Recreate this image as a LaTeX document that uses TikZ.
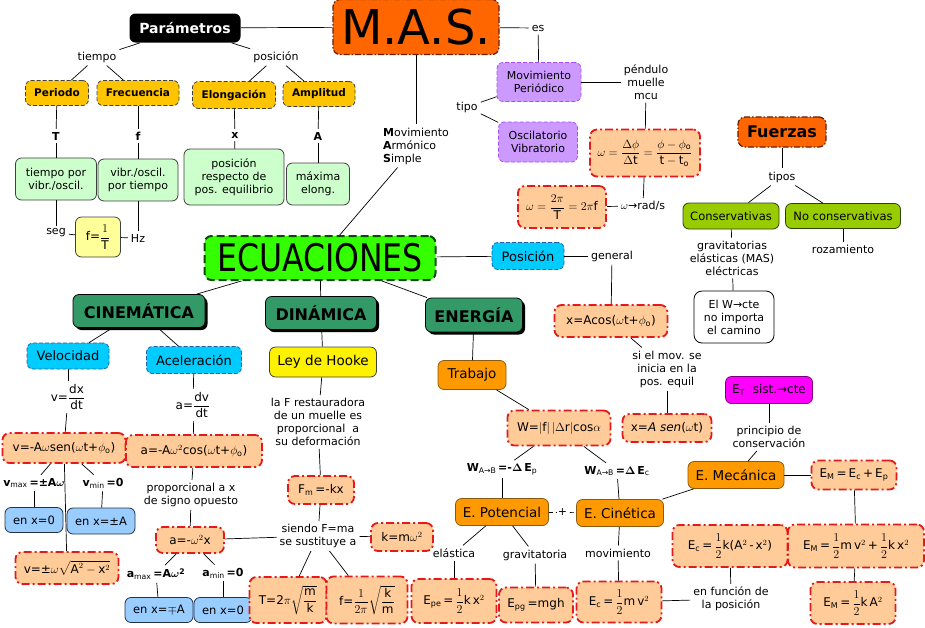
\documentclass[tikz,border=0pt]{standalone}
\usepackage{amsmath}
\usepackage{fontspec}
\setmainfont{DejaVu Sans}
\usetikzlibrary{shadows}

\definecolor{masorange}{HTML}{FF6600}
\definecolor{masedge}{HTML}{6A1A00}
\definecolor{goldc}{HTML}{FFC400}
\definecolor{palegreen}{HTML}{CCFFCC}
\definecolor{paleyellow}{HTML}{FFFF99}
\definecolor{purpc}{HTML}{CC99FF}
\definecolor{purpedge}{HTML}{A64DFF}
\definecolor{frmfill}{HTML}{FFCC99}
\definecolor{frmred}{HTML}{E51919}
\definecolor{ecugreen}{HTML}{33FF00}
\definecolor{ecuedge}{HTML}{0B4A0B}
\definecolor{cyanc}{HTML}{00CCFF}
\definecolor{bluedge}{HTML}{1F5FA8}
\definecolor{secgreen}{HTML}{339966}
\definecolor{orangec}{HTML}{FF9900}
\definecolor{orangeedge}{HTML}{8A5A10}
\definecolor{lightblue}{HTML}{99CCFF}
\definecolor{navyedge}{HTML}{223344}
\definecolor{limec}{HTML}{99CC00}
\definecolor{limeedge}{HTML}{2E4400}
\definecolor{magentac}{HTML}{FF00FF}
\definecolor{magedge}{HTML}{7A007A}

\newcommand{\fsz}[2]{\fontsize{#1}{#2}\selectfont}
\newcommand{\tx}[1]{\text{#1}}

\begin{document}
\begin{tikzpicture}[x=1pt, y=-1pt,
  every node/.style={font=\fsz{11}{13}},
  link/.style={draw, line width=0.7pt},
  lbl/.style={inner sep=3pt, align=center},
  sym/.style={lbl, font=\fsz{11}{13}\bfseries},
  dsh/.style={dash pattern=on 4pt off 2pt},
  box/.style={rounded corners=4pt, align=center, line width=0.8pt, inner xsep=4pt, inner ysep=2pt},
  mas/.style={box, fill=masorange, draw=masedge, line width=1.2pt, dash pattern=on 6pt off 2pt on 1.5pt off 2pt, rounded corners=7pt, font=\fsz{48}{50}},
  param/.style={box, fill=black, text=white, rounded corners=6pt, font=\fsz{14}{16}\bfseries},
  gold/.style={box, fill=goldc, draw=black!75, dsh, rounded corners=6pt, font=\fsz{10.5}{12}\bfseries, minimum height=25pt},
  pale/.style={box, fill=palegreen, draw=black!75, rounded corners=6pt},
  yel/.style={box, fill=paleyellow, draw=black!75, rounded corners=6pt},
  purp/.style={box, fill=purpc, draw=purpedge, dsh, rounded corners=6pt},
  frm/.style={box, fill=frmfill, draw=frmred, line width=1.8pt, dash pattern=on 8pt off 3pt on 2pt off 3pt, rounded corners=7pt, font=\fsz{12}{14}},
  ecu/.style={box, fill=ecugreen, draw=ecuedge, line width=2pt, dash pattern=on 8pt off 4pt, rounded corners=7pt, font=\fsz{38}{40}},
  blu/.style={box, fill=cyanc, draw=bluedge, dsh, rounded corners=6pt, font=\fsz{13}{15}},
  sect/.style={box, fill=secgreen, draw=black, rounded corners=6pt, font=\fsz{16}{18}\bfseries, drop shadow={shadow xshift=2.5pt, shadow yshift=-2.5pt, fill=black, opacity=1}},
  hook/.style={box, fill=yellow, draw=black!75, rounded corners=6pt, font=\fsz{13.5}{15}},
  orng/.style={box, fill=orangec, draw=orangeedge, rounded corners=6pt, font=\fsz{13.5}{15}},
  enb/.style={box, fill=lightblue, draw=navyedge, rounded corners=6pt, font=\fsz{11.5}{13}},
  lime/.style={box, fill=limec, draw=limeedge, rounded corners=6pt, font=\fsz{11.5}{13}},
  wbox/.style={box, fill=white, draw=black, rounded corners=8pt},
  mag/.style={box, fill=magentac, draw=magedge, rounded corners=6pt, font=\fsz{12}{14}}
]
\fill[white] (0,0) rectangle (925,627);
\useasboundingbox (0,0) rectangle (925,627);

\node[mas, minimum width=166pt, minimum height=55pt] (mas) at (416,27) {M.A.S.};
\node[param, minimum width=111pt, minimum height=29pt] (param) at (185,28) {Parámetros};
\node[lbl] (tiempo) at (97,57) {tiempo};
\node[lbl] (posic) at (276,57) {posición};
\node[gold, minimum width=63pt] (periodo) at (57,93) {Periodo};
\node[gold, minimum width=82pt] (frec) at (138,93) {Frecuencia};
\node[gold, minimum width=83pt, minimum height=27pt] (elong) at (234,95) {Elongación};
\node[gold, minimum width=72pt] (ampl) at (319,94) {Amplitud};
\node[sym] (Tl) at (56,136) {T};
\node[sym] (fl) at (138,136) {f};
\node[sym] (xl) at (235,135) {x};
\node[sym] (Al) at (318,136) {A};
\node[pale, minimum width=81pt, minimum height=42pt] (tpor) at (56,179) {tiempo por\\vibr./oscil.};
\node[pale, minimum width=80pt, minimum height=42pt] (vpor) at (138,180) {vibr./oscil.\\por tiempo};
\node[pale, minimum width=100pt, minimum height=56pt] (posresp) at (234,177) {posición\\respecto de\\pos. equilibrio};
\node[pale, minimum width=63pt, minimum height=42pt] (maxel) at (318,184) {máxima\\elong.};
\node[lbl] (seg) at (56,233) {seg};
\node[yel, minimum width=45pt, minimum height=40pt, font=\fsz{12}{14}] (finv) at (98,237) {f=$\dfrac{1}{\tx{T}}$};
\node[lbl] (hz) at (138,238) {Hz};

\node[lbl] (es) at (538,28) {es};
\node[purp, minimum width=84pt, minimum height=39pt] (movper) at (539,82) {Movimiento\\Periódico};
\node[lbl] (pendulo) at (646,82) {péndulo\\muelle\\mcu};
\node[lbl] (tipo) at (467,107) {tipo};
\node[purp, minimum width=79pt, minimum height=40pt] (oscil) at (538,142) {Oscilatorio\\Vibratorio};
\node[frm, minimum width=110pt, minimum height=47pt] (wdef) at (645,153) {$\omega=\dfrac{\Delta\phi}{\Delta\tx{t}}=\dfrac{\phi-\phi_{\tx{o}}}{\tx{t}-\tx{t}_{\tx{o}}}$};
\node[frm, minimum width=88pt, minimum height=42pt] (wper) at (562,207) {$\omega=\dfrac{2\pi}{\tx{T}}=2\pi\tx{f}$};
\node[lbl] (rads) at (643,206) {$\omega$→rad/s};
\node[lbl, align=left] (msimple) at (416,146) {\textbf{M}ovimiento\\\textbf{A}rmónico\\\textbf{S}imple};

\node[mas, font=\fsz{16}{18}\bfseries, minimum width=88pt, minimum height=30pt] (fuerzas) at (782,132) {Fuerzas};
\node[lbl] (tipos) at (782,177) {tipos};
\node[lime, minimum width=96pt, minimum height=26pt] (conserv) at (731,216) {Conservativas};
\node[lime, minimum width=115pt, minimum height=25pt] (noconserv) at (843,216) {No conservativas};
\node[lbl] (gravit) at (732,258) {gravitatorias\\elásticas (MAS)\\eléctricas};
\node[wbox, minimum width=80pt, minimum height=52pt] (wcte) at (734,317) {El W→cte\\no importa\\el camino};
\node[lbl] (rozam) at (843,249) {rozamiento};

\node[ecu, minimum width=231pt, minimum height=44pt] (ecuac) at (320,258) {\scalebox{0.83}[1]{ECUACIONES}};
\node[blu, minimum width=72pt, minimum height=27pt] (posicion) at (528,256) {Posición};
\node[lbl] (general) at (612,256) {general};
\node[frm, minimum width=113pt, minimum height=32pt] (xacos) at (611,321) {x=Acos($\omega$t+$\phi_{\tx{o}}$)};
\node[lbl] (simov) at (667,369) {si el mov. se\\inicia en la\\pos. equil};
\node[frm, minimum width=89pt, minimum height=28pt] (xasen) at (667,428) {x=\textit{A sen}($\omega$t)};

\node[sect, minimum width=132pt, minimum height=33pt] (cinem) at (139,311) {CINEMÁTICA};
\node[sect, minimum width=111pt, minimum height=33pt] (dinam) at (321,313) {DINÁMICA};
\node[sect, minimum width=97pt, minimum height=34pt] (energ) at (474,315) {ENERGÍA};

\node[blu, minimum width=82pt, minimum height=26pt] (veloc) at (68,356) {Velocidad};
\node[blu, minimum width=95pt, minimum height=27pt] (acel) at (194,360) {Aceleración};
\node[lbl, font=\fsz{12}{14}] (vdx) at (68,397) {v=$\dfrac{\tx{dx}}{\tx{dt}}$};
\node[lbl, font=\fsz{12}{14}] (adv) at (193,405) {a=$\dfrac{\tx{dv}}{\tx{dt}}$};
\node[frm, minimum width=123pt, minimum height=30pt] (vsen) at (64,448) {v=-A$\omega$sen($\omega$t+$\phi_{\tx{o}}$)};
\node[frm, minimum width=136pt, minimum height=32pt] (acos) at (194,451) {a=-A$\omega^{2}$cos($\omega$t+$\phi_{\tx{o}}$)};
\node[lbl] (vmax) at (34,483) {\textbf{v}\textsubscript{max}\,\textbf{=±A}$\boldsymbol{\omega}$};
\node[lbl] (vmin) at (103,483) {\textbf{v}\textsubscript{min}\,\textbf{=0}};
\node[enb, minimum width=58pt, minimum height=25pt] (enxa) at (34,520) {en x=0};
\node[enb, minimum width=68pt, minimum height=26pt] (enxb) at (101,521) {en x=±A};
\node[frm, minimum width=103pt, minimum height=32pt] (vsqrt) at (67,568) {v=±$\omega\sqrt{\tx{A}^{2}-\tx{x}^{2}}$};
\node[lbl] (propx) at (191,495) {proporcional a x\\de signo opuesto};
\node[frm, minimum width=68pt, minimum height=26pt] (aomx) at (190,540) {a=-$\omega^{2}$x};
\node[lbl] (amax) at (156,574) {\textbf{a}\textsubscript{max}\,\textbf{=A}$\boldsymbol{\omega}^{\mathbf{2}}$};
\node[lbl] (amin) at (223,573) {\textbf{a}\textsubscript{min}\,\textbf{=0}};
\node[enb, minimum width=68pt, minimum height=25pt] (enxc) at (159,610) {en x=$\mp$A};
\node[enb, minimum width=58pt, minimum height=25pt] (enxd) at (223,610) {en x=0};

\node[hook, minimum width=107pt, minimum height=30pt] (hooke) at (323,362) {Ley de Hooke};
\node[lbl] (hooketxt) at (318,422) {la F restauradora\\de un muelle es\\proporcional~ a\\su deformación};
\node[frm, minimum width=66pt, minimum height=28pt] (fm) at (321,490) {F\textsubscript{m}\,=-kx};
\node[lbl] (siendo) at (318,536) {siendo F=ma\\se sustituye a};
\node[frm, minimum width=62pt, minimum height=28pt] (kmw) at (402,537) {k=m$\omega^{2}$};
\node[frm, minimum width=77pt, minimum height=46pt] (Tper) at (288,600) {T=2$\pi\sqrt{\dfrac{\tx{m}}{\tx{k}}}$};
\node[frm, minimum width=81pt, minimum height=47pt] (fper) at (367,600) {f=$\dfrac{1}{2\pi}\sqrt{\dfrac{\tx{k}}{\tx{m}}}$};

\node[orng, minimum width=68pt, minimum height=29pt] (trabajo) at (472,375) {Trabajo};
\node[frm, minimum width=103pt, minimum height=35pt] (wform) at (559,428) {W=$\left|\tx{f}\right|\left|\Delta\tx{r}\right|$cos$\alpha$};
\node[lbl] (wep) at (502,469) {\textbf{W}\textsubscript{A→B}\,\textbf{=-}$\boldsymbol{\Delta}$\,\textbf{E}\textsubscript{p}};
\node[lbl] (wec) at (617,471) {\textbf{W}\textsubscript{A→B}\,\textbf{=}$\boldsymbol{\Delta}$\,\textbf{E}\textsubscript{c}};
\node[orng, minimum width=93pt, minimum height=27pt] (epot) at (502,512) {E. Potencial};
\node[orng, minimum width=87pt, minimum height=27pt] (ecin) at (620,513) {E. Cinética};
\node[lbl] (elast) at (454,553) {elástica};
\node[lbl] (grav) at (535,555) {gravitatoria};
\node[frm, minimum width=85pt, minimum height=44pt] (epe) at (454,601) {E\textsubscript{pe}\,=\,$\dfrac{1}{2}$k\,x$^{2}$};
\node[frm, minimum width=74pt, minimum height=35pt] (epg) at (536,605) {E\textsubscript{pg}\,=mgh};
\node[lbl] (movim) at (618,553) {movimiento};
\node[frm, minimum width=85pt, minimum height=41pt] (ec) at (619,602) {E\textsubscript{c}\,=\,$\dfrac{1}{2}$m\,v$^{2}$};
\node[lbl] (enfunc) at (731,599) {en función de\\la posición};
\node[frm, minimum width=115pt, minimum height=42pt] (ecpos) at (730,546) {E\textsubscript{c}\,=\,$\dfrac{1}{2}$k(A$^{2}$\,-\,x$^{2}$)};
\node[orng, minimum width=96pt, minimum height=27pt] (emec) at (736,475) {E. Mecánica};
\node[mag, minimum width=87pt, minimum height=27pt] (et) at (769,390) {E\textsubscript{T}~ sist.→cte};
\node[lbl] (princ) at (769,437) {principio de\\conservación};
\node[frm, minimum width=85pt, minimum height=29pt] (emsum) at (854,475) {E\textsubscript{M}\,=\,E\textsubscript{c}\,+\,E\textsubscript{p}};
\node[frm, minimum width=136pt, minimum height=43pt] (emfull) at (856,546) {E\textsubscript{M}\,=\,$\dfrac{1}{2}$m\,v$^{2}$\,+\,$\dfrac{1}{2}$k\,x$^{2}$};
\node[frm, minimum width=85pt, minimum height=42pt] (emA) at (853,603) {E\textsubscript{M}\,=\,$\dfrac{1}{2}$k\,A$^{2}$};

\draw[link] (param) -- (mas);
\draw[link] (param) -- (tiempo);
\draw[link] (param) -- (posic);
\draw[link] (tiempo) -- (periodo);
\draw[link] (tiempo) -- (frec);
\draw[link] (posic) -- (elong);
\draw[link] (posic) -- (ampl);
\draw[link] (periodo) -- (Tl);
\draw[link] (Tl) -- (tpor);
\draw[link] (frec) -- (fl);
\draw[link] (fl) -- (vpor);
\draw[link] (elong) -- (xl);
\draw[link] (xl) -- (posresp);
\draw[link] (ampl) -- (Al);
\draw[link] (Al) -- (maxel);
\draw[link] (tpor) -- (seg);
\draw[link] (seg) -- (finv);
\draw[link] (finv) -- (hz);
\draw[link] (hz) -- (vpor);
\draw[link] (mas) -- (es);
\draw[link] (es) -- (movper);
\draw[link] (movper) -- (pendulo);
\draw[link] (tipo) -- (movper);
\draw[link] (tipo) -- (oscil);
\draw[link] (pendulo) -- (wdef);
\draw[link] (wper) -- (rads);
\draw[link] (rads) -- (wdef);
\draw[link] (mas) -- (msimple);
\draw[link] (msimple) -- (ecuac);
\draw[link] (fuerzas) -- (tipos);
\draw[link] (tipos) -- (conserv);
\draw[link] (tipos) -- (noconserv);
\draw[link] (conserv) -- (gravit);
\draw[link] (gravit) -- (wcte);
\draw[link] (noconserv) -- (rozam);
\draw[link] (ecuac) -- (posicion);
\draw[link] (posicion) -- (general);
\draw[link] (general) -- (xacos);
\draw[link] (xacos) -- (simov);
\draw[link] (simov) -- (xasen);
\draw[link] (ecuac) -- (cinem);
\draw[link] (ecuac) -- (dinam);
\draw[link] (ecuac) -- (energ);
\draw[link] (cinem) -- (veloc);
\draw[link] (cinem) -- (acel);
\draw[link] (veloc) -- (vdx);
\draw[link] (vdx) -- (vsen);
\draw[link] (acel) -- (adv);
\draw[link] (adv) -- (acos);
\draw[link] (vsen) -- (vmax);
\draw[link] (vsen) -- (vmin);
\draw[link] (vmax) -- (enxa);
\draw[link] (vmin) -- (enxb);
\draw[link] (vsen) -- (vsqrt);
\draw[link] (acos) -- (propx);
\draw[link] (propx) -- (aomx);
\draw[link] (aomx) -- (amax);
\draw[link] (aomx) -- (amin);
\draw[link] (amax) -- (enxc);
\draw[link] (amin) -- (enxd);
\draw[link] (aomx) -- (siendo);
\draw[link] (dinam) -- (hooke);
\draw[link] (hooke) -- (hooketxt);
\draw[link] (hooketxt) -- (fm);
\draw[link] (fm) -- (siendo);
\draw[link] (siendo) -- (kmw);
\draw[link] (siendo) -- (Tper);
\draw[link] (siendo) -- (fper);
\draw[link] (energ) -- (trabajo);
\draw[link] (trabajo) -- (wform);
\draw[link] (wform) -- (wep);
\draw[link] (wform) -- (wec);
\draw[link] (wep) -- (epot);
\draw[link] (wec) -- (ecin);
\draw[link, dash pattern=on 4pt off 3pt] (epot) -- node[lbl, fill=white, inner sep=1pt] {+} (ecin);
\draw[link] (epot) -- (elast);
\draw[link] (epot) -- (grav);
\draw[link] (elast) -- (epe);
\draw[link] (grav) -- (epg);
\draw[link] (ecin) -- (movim);
\draw[link] (movim) -- (ec);
\draw[link] (ec) -- (enfunc);
\draw[link] (enfunc) -- (ecpos);
\draw[link] (ecin) -- (emec);
\draw[link] (et) -- (princ);
\draw[link] (princ) -- (emec);
\draw[link] (emec) -- (emsum);
\draw[link] (emsum) -- (emfull);
\draw[link] (emfull) -- (emA);
\end{tikzpicture}
\end{document}
